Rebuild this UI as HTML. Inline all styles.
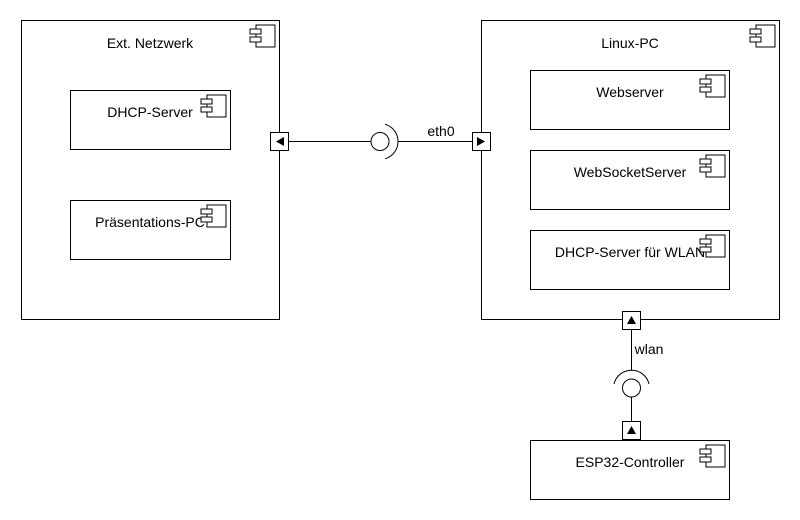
<!DOCTYPE html>
<html><head><meta charset="utf-8"><style>
html,body{margin:0;padding:0;background:#fff;}
svg{display:block;font-family:"Liberation Sans",Arial,sans-serif;font-size:14px;}
</style></head><body>
<svg width="800" height="520" viewBox="0 0 800 520" xmlns="http://www.w3.org/2000/svg">
<defs>
<g id="ic" fill="#fff" stroke="#000" stroke-width="1">
<rect x="-24" y="5" width="19" height="22"/>
<rect x="-30" y="9" width="11" height="5"/>
<rect x="-30" y="17" width="11" height="5"/>
</g>
</defs>
<g fill="#fff" stroke="#000" stroke-width="1">
<rect x="21.5" y="20.5" width="258" height="299"/>
<rect x="481.5" y="20.5" width="298" height="299"/>
<rect x="70.5" y="90.5" width="160" height="59"/>
<rect x="70.5" y="200.5" width="160" height="59"/>
<rect x="530.5" y="70.5" width="199" height="59"/>
<rect x="530.5" y="150.5" width="199" height="59"/>
<rect x="530.5" y="230.5" width="199" height="59"/>
<rect x="530.5" y="440.5" width="199" height="59"/>
</g>
<use href="#ic" x="280" y="20"/>
<use href="#ic" x="780" y="20"/>
<use href="#ic" x="231" y="90"/>
<g fill="#000" text-anchor="middle">
<text x="150" y="48">Ext. Netzwerk</text>
<text x="630" y="48">Linux-PC</text>
<text x="150" y="117">DHCP-Server</text>
<text x="150" y="227">Präsentations-PC</text>
<text x="630" y="97">Webserver</text>
<text x="630" y="177">WebSocketServer</text>
<text x="630" y="257">DHCP-Server für WLAN</text>
<text x="630" y="467">ESP32-Controller</text>
<text x="441" y="136">eth0</text>
<text x="649" y="354">wlan</text>
</g>
<use href="#ic" x="231" y="200"/>
<use href="#ic" x="730" y="70"/>
<use href="#ic" x="730" y="150"/>
<use href="#ic" x="730" y="230"/>
<use href="#ic" x="730" y="440"/>
<g fill="none" stroke="#000">
<line x1="288" y1="141.5" x2="371" y2="141.5"/>
<line x1="398" y1="141.5" x2="472" y2="141.5"/>
<circle cx="380" cy="141.5" r="9" fill="#fff"/>
<path d="M385 124.2 A18 18 0 0 1 385 158.8"/>
<line x1="631.5" y1="329" x2="631.5" y2="370"/>
<line x1="631.5" y1="397" x2="631.5" y2="421"/>
<circle cx="631.5" cy="388" r="9" fill="#fff"/>
<path d="M614 384 A18 18 0 0 1 649 384"/>
</g>
<g fill="#fff" stroke="#000">
<rect x="270.5" y="132.5" width="18" height="18"/>
<rect x="472.5" y="132.5" width="18" height="18"/>
<rect x="622.5" y="311.5" width="18" height="18"/>
<rect x="622.5" y="421.5" width="18" height="18"/>
</g>
<g fill="#000">
<polygon points="276,141.5 284,137 284,146"/>
<polygon points="485,141.5 477,137 477,146"/>
<polygon points="631.5,316 627,324 636,324"/>
<polygon points="631.5,426 627,434 636,434"/>
</g>
</svg>
</body></html>
